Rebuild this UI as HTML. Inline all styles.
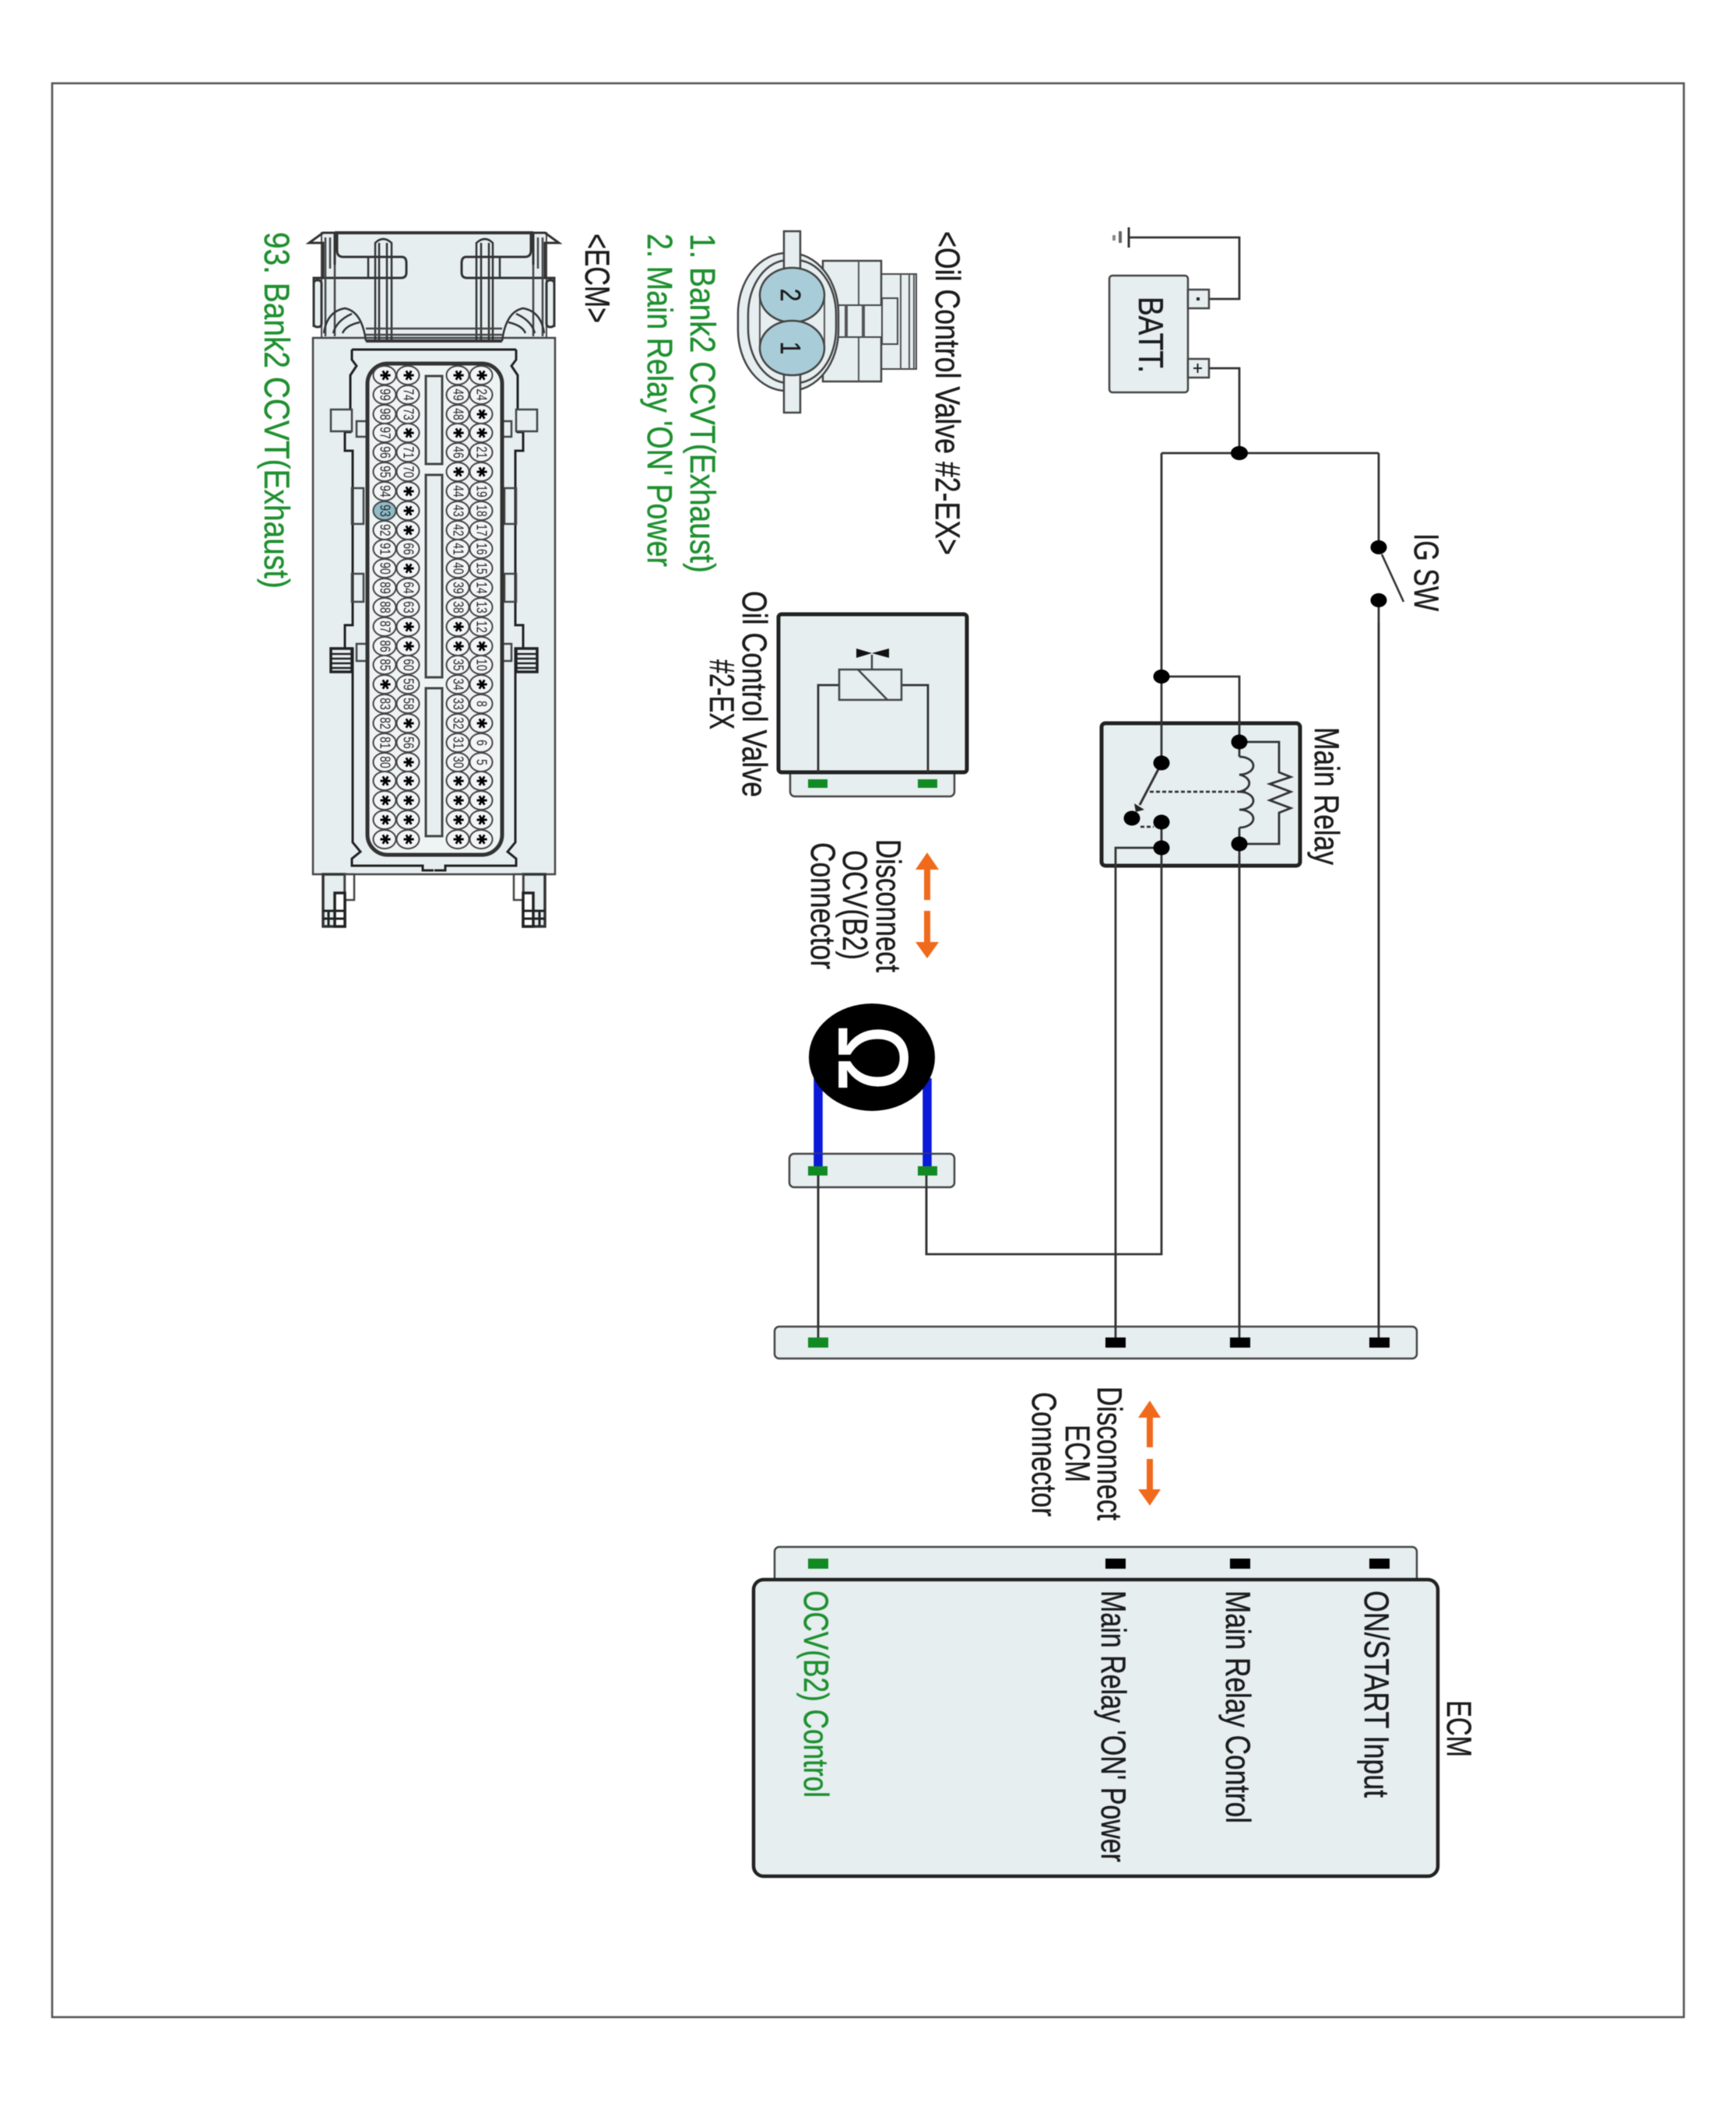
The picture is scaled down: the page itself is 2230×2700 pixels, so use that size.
<!DOCTYPE html>
<html><head><meta charset="utf-8"><style>
html,body{margin:0;padding:0;background:#fff}
svg{display:block;filter:blur(.6px)}
text{font-family:"Liberation Sans",sans-serif;fill:#1c1c1c;stroke:#1c1c1c;stroke-width:.35px;font-size:35px}
.g{fill:#1f9030;stroke:#1f9030}
.n text{font-size:14px;text-anchor:middle;dominant-baseline:central;fill:#222;stroke:none}
.s text{font-family:"DejaVu Sans",sans-serif;font-size:18px;text-anchor:middle;dominant-baseline:central;fill:#000;stroke:none}
.w{fill:none;stroke:#333;stroke-width:2.8}
.c{fill:#e6eef0;stroke:#444;stroke-width:2.5}
.l{fill:none;stroke:#555;stroke-width:2}
.h{fill:#e6eef0;stroke:#444;stroke-width:2}
</style></head><body>
<svg xmlns="http://www.w3.org/2000/svg" width="2230" height="2700" viewBox="0 0 2230 2700">
<rect x="67" y="107" width="2096" height="2484" fill="#fff" stroke="#555" stroke-width="2.6"/>

<!-- Battery -->
<path class="w" d="M1450 305H1592V384H1553M1553 473H1592V582M1492 582H1771"/>
<path d="M1450 292V318" stroke="#333" stroke-width="3" fill="none"/>
<path d="M1439 297V312" stroke="#666" stroke-width="4" fill="none"/>
<path d="M1431 302V309" stroke="#888" stroke-width="4" fill="none"/>
<rect class="c" x="1425" y="354" width="101" height="150" rx="4"/>
<rect class="c" x="1526" y="372" width="27" height="24"/>
<rect class="c" x="1526" y="461" width="27" height="24"/>
<text transform="translate(1463,381) rotate(90) scale(1,1.28)" textLength="98" lengthAdjust="spacingAndGlyphs">BATT.</text>
<rect x="1537" y="382" width="4" height="4" fill="#222"/>
<path d="M1533 473H1544M1538.5 467V479" stroke="#222" stroke-width="2" fill="none"/>

<!-- IG SW -->
<path class="w" d="M1771 582V703M1771 771V1722"/>
<path d="M1775 712L1803 773" stroke="#333" stroke-width="2.6" fill="none"/>
<ellipse cx="1771" cy="703" rx="10.5" ry="9"/>
<ellipse cx="1771" cy="771" rx="10.5" ry="9"/>
<text transform="translate(1817,685) rotate(90) scale(1,1.28)" textLength="100" lengthAdjust="spacingAndGlyphs">IG SW</text>

<!-- Main relay -->
<path class="w" d="M1492 582V929M1492 869H1592V929"/>
<rect x="1415" y="929" width="255" height="183" rx="5" fill="#e6eef0" stroke="#222" stroke-width="5"/>
<path class="w" d="M1492 925V980M1592 925V972M1592 1063V1722M1492 1056V1611H1190V1510M1492 1089H1433V1722"/>
<path class="w" d="M1592 953H1643V992L1658 998L1631 1007L1658 1017L1631 1028L1658 1038L1643 1044V1084H1592"/>
<path class="w" d="M1592 972a18 11.5 0 0 1 0 23a18 11.5 0 0 1 0 22a18 11.5 0 0 1 0 23a18 11.5 0 0 1 0 23"/>
<path d="M1488 988L1464 1034" stroke="#333" stroke-width="3" fill="none"/>
<polygon points="1457,1032 1470,1040 1459,1043" fill="#222"/>
<path d="M1477 1017H1600M1465 1062H1482" stroke="#333" stroke-width="2.8" stroke-dasharray="5 3" fill="none"/>
<ellipse cx="1492" cy="869" rx="10.5" ry="9"/>
<ellipse cx="1592" cy="582" rx="11" ry="9"/>
<ellipse cx="1592" cy="953" rx="10.5" ry="9.5"/>
<ellipse cx="1592" cy="1084" rx="10.5" ry="9.5"/>
<ellipse cx="1492" cy="980" rx="10.5" ry="9.5"/>
<ellipse cx="1492" cy="1056" rx="10.5" ry="9.5"/>
<ellipse cx="1492" cy="1089" rx="10.5" ry="9.5"/>
<ellipse cx="1454" cy="1051" rx="10.5" ry="9.5"/>
<text transform="translate(1689,934) rotate(90) scale(1,1.28)" textLength="177" lengthAdjust="spacingAndGlyphs">Main Relay</text>

<!-- OCV connector view -->
<text transform="translate(1202,297) rotate(90) scale(1,1.28)" textLength="416" lengthAdjust="spacingAndGlyphs">&lt;Oil Control Valve #2-EX&gt;</text>
<text class="g" transform="translate(887,300) rotate(90) scale(1,1.2)" textLength="436" lengthAdjust="spacingAndGlyphs" style="font-size:38px">1. Bank2 CCVT(Exhaust)</text>
<text class="g" transform="translate(832,300) rotate(90) scale(1,1.2)" textLength="428" lengthAdjust="spacingAndGlyphs" style="font-size:38px">2. Main Relay 'ON' Power</text>
<rect class="h" x="1132" y="352" width="45" height="122"/>
<path class="l" d="M1157 352V474M1168 352V474M1174 352V474"/>
<rect class="h" x="1133" y="383" width="20" height="59"/>
<rect class="c" x="1057" y="335" width="75" height="155"/>
<path class="l" d="M1103 335V392M1103 433V490"/>
<rect class="h" x="1077" y="392" width="56" height="41"/>
<path d="M1087 392V433M1109 392V433" stroke="#555" stroke-width="4" fill="none"/>
<rect x="948" y="325" width="129" height="177" rx="62" ry="78" fill="#e6eef0" stroke="#444" stroke-width="2.5"/>
<rect x="961" y="334" width="113" height="158" rx="52" ry="70" fill="#e6eef0" stroke="#444" stroke-width="2.5"/>
<rect class="c" x="1007" y="297" width="21" height="233"/>
<rect x="976" y="379" width="83" height="68" fill="#e6eef0"/>
<path class="l" d="M976 379V447M1059 379V447"/>
<ellipse cx="1017.5" cy="379" rx="41.5" ry="35" fill="#a9cdd8" stroke="#444" stroke-width="2.5"/>
<ellipse cx="1017.5" cy="447" rx="41.5" ry="35" fill="#a9cdd8" stroke="#444" stroke-width="2.5"/>
<text transform="translate(1003,379) rotate(90) scale(1,1.2)" text-anchor="middle" style="font-size:30px">2</text>
<text transform="translate(1003,447) rotate(90) scale(1,1.2)" text-anchor="middle" style="font-size:30px">1</text>

<!-- OCV box -->
<rect class="c" x="1015" y="985" width="211" height="38" rx="6"/>
<rect x="1000" y="789" width="242" height="203" rx="4" fill="#e6eef0" stroke="#222" stroke-width="5"/>
<rect x="1038" y="1001" width="25" height="11" fill="#128a24"/>
<rect x="1179" y="1001" width="25" height="11" fill="#128a24"/>
<path class="w" d="M1051 992V880H1078M1192 992V880H1158"/>
<rect class="c" x="1078" y="860" width="80" height="39"/>
<path d="M1102 860L1140 899M1120 860V841" stroke="#444" stroke-width="2.5" fill="none"/>
<polygon points="1100,833 1120,839 1142,833 1142,845 1120,839 1100,845" fill="#111"/>
<text transform="translate(954,759) rotate(90) scale(1,1.28)" textLength="265" lengthAdjust="spacingAndGlyphs">Oil Control Valve</text>
<text transform="translate(912,847) rotate(90) scale(1,1.28)" textLength="90" lengthAdjust="spacingAndGlyphs">#2-EX</text>

<!-- Disconnect OCV -->
<polygon points="1191,1095 1206,1117 1195,1117 1195,1156 1187,1156 1187,1117 1176,1117" fill="#f06a1c"/>
<polygon points="1191,1231 1206,1210 1195,1210 1195,1170 1187,1170 1187,1210 1176,1210" fill="#f06a1c"/>
<text transform="translate(1126,1078) rotate(90) scale(1,1.28)" textLength="171" lengthAdjust="spacingAndGlyphs">Disconnect</text>
<text transform="translate(1083,1092) rotate(90) scale(1,1.28)" textLength="141" lengthAdjust="spacingAndGlyphs">OCV(B2)</text>
<text transform="translate(1042,1082) rotate(90) scale(1,1.28)" textLength="163" lengthAdjust="spacingAndGlyphs">Connector</text>

<!-- Ohm meter -->
<path d="M1051 1385V1498M1191 1385V1498" stroke="#0a1ad8" stroke-width="11.5" fill="none"/>
<ellipse cx="1120" cy="1358" rx="81" ry="69" fill="#000"/>
<text transform="translate(1078,1359) rotate(90) scale(1,1.115)" text-anchor="middle" style="font-size:113px;fill:#fff;stroke:#fff;stroke-width:1.5px">Ω</text>
<rect class="c" x="1014" y="1482" width="212" height="43" rx="6"/>
<path d="M1051 1482V1498M1191 1482V1498" stroke="#0a1ad8" stroke-width="11.5" fill="none"/>
<rect x="1038" y="1498" width="25" height="12" fill="#128a24"/>
<rect x="1179" y="1498" width="25" height="12" fill="#128a24"/>
<path class="w" d="M1051 1510V1722"/>
<path class="w" d="M1190 1510V1611"/>

<!-- ECM connectors -->
<rect class="c" x="995" y="1704" width="825" height="41" rx="6"/>
<path class="w" d="M1051 1510V1722M1433 1611V1722M1592 1100V1722M1771 800V1722"/>
<rect x="1038" y="1718" width="26" height="13" fill="#128a24"/>
<rect x="1420" y="1718" width="26" height="13" fill="#000"/>
<rect x="1580" y="1718" width="26" height="13" fill="#000"/>
<rect x="1759" y="1718" width="26" height="13" fill="#000"/>

<polygon points="1477,1799 1491,1821 1481,1821 1481,1859 1473,1859 1473,1821 1462,1821" fill="#f06a1c"/>
<polygon points="1477,1934 1491,1913 1481,1913 1481,1874 1473,1874 1473,1913 1462,1913" fill="#f06a1c"/>
<text transform="translate(1410,1781) rotate(90) scale(1,1.28)" textLength="172" lengthAdjust="spacingAndGlyphs">Disconnect</text>
<text transform="translate(1369,1830) rotate(90) scale(1,1.28)" textLength="74" lengthAdjust="spacingAndGlyphs">ECM</text>
<text transform="translate(1326,1788) rotate(90) scale(1,1.28)" textLength="160" lengthAdjust="spacingAndGlyphs">Connector</text>

<rect class="c" x="995" y="1987" width="825" height="60" rx="6"/>
<rect x="1038" y="2002" width="26" height="13" fill="#128a24"/>
<rect x="1420" y="2002" width="26" height="13" fill="#000"/>
<rect x="1580" y="2002" width="26" height="13" fill="#000"/>
<rect x="1759" y="2002" width="26" height="13" fill="#000"/>
<rect x="968" y="2029" width="879" height="381" rx="13" fill="#e6eef0" stroke="#222" stroke-width="4.5"/>
<text transform="translate(1753,2043) rotate(90) scale(1,1.28)" textLength="266" lengthAdjust="spacingAndGlyphs">ON/START Input</text>
<text transform="translate(1575,2043) rotate(90) scale(1,1.28)" textLength="299" lengthAdjust="spacingAndGlyphs">Main Relay Control</text>
<text transform="translate(1415,2043) rotate(90) scale(1,1.28)" textLength="349" lengthAdjust="spacingAndGlyphs">Main Relay 'ON' Power</text>
<text class="g" transform="translate(1033,2043) rotate(90) scale(1,1.28)" textLength="266" lengthAdjust="spacingAndGlyphs">OCV(B2) Control</text>
<text transform="translate(1859,2184) rotate(90) scale(1,1.28)" textLength="73" lengthAdjust="spacingAndGlyphs">ECM</text>

<!-- ECM connector view -->
<text transform="translate(752,300) rotate(90) scale(1,1.28)" textLength="115" lengthAdjust="spacingAndGlyphs">&lt;ECM&gt;</text>
<text class="g" transform="translate(340,298) rotate(90) scale(1,1.2)" textLength="458" lengthAdjust="spacingAndGlyphs" style="font-size:38px">93. Bank2 CCVT(Exhaust)</text>

<defs>
<g id="half">
<path d="M415 357V312H397L415 299H430V340" fill="none" stroke="#333" stroke-width="3"/>
<path d="M433 299V322Q433 330 441 330H516Q522 330 522 338V350Q522 357 515 357H403V420" fill="none" stroke="#333" stroke-width="3"/>
<path d="M473 330V357" fill="none" stroke="#333" stroke-width="2.5"/>
<path d="M418 305V432M430 340V432M424 305V345" fill="none" stroke="#444" stroke-width="2.5"/>
<path d="M482 312Q492 302 503 312V438H482ZM487 312V438M497 312V438" fill="none" stroke="#333" stroke-width="2.5"/>
<rect x="403" y="360" width="10" height="60" rx="4" fill="#e6eef0" stroke="#333" stroke-width="3"/>
<path d="M416 428Q420 400 443 396Q465 400 470 438M428 428Q432 412 452 403M440 428Q444 418 462 414" fill="none" stroke="#333" stroke-width="2.5"/>
<path d="M452 449V462L458 470L450 482V555H443V579H453V803H443V833H453V1082L463 1094L452 1103V1112H543V1118H557" fill="none" stroke="#222" stroke-width="3"/>
<rect x="425" y="526" width="27" height="28" fill="#e6eef0" stroke="#444" stroke-width="2.5"/>
<rect x="425" y="833" width="27" height="30" fill="#e6eef0" stroke="#222" stroke-width="3.5"/>
<path d="M426 840H452M426 846H452M426 852H452M426 858H452" stroke="#222" stroke-width="2.5"/>
<rect x="458" y="541" width="14" height="20" fill="none" stroke="#444" stroke-width="2.5"/>
<rect x="458" y="827" width="14" height="22" fill="none" stroke="#444" stroke-width="2.5"/>
<rect x="452" y="627" width="15" height="46" fill="none" stroke="#444" stroke-width="2.5"/>
<rect x="452" y="737" width="15" height="36" fill="none" stroke="#444" stroke-width="2.5"/>
<rect x="415" y="1123" width="28" height="67" fill="#e6eef0" stroke="#333" stroke-width="3.5"/>
<rect x="443" y="1123" width="12" height="33" fill="#fff" stroke="#444" stroke-width="2.5"/>
<rect x="430" y="1147" width="13" height="43" fill="#fff" stroke="#222" stroke-width="3.5"/>
<path d="M415 1170H443M415 1180H443M422 1170V1190" stroke="#222" stroke-width="3" fill="none"/>
</g>
</defs>
<rect class="h" x="413" y="299" width="289" height="136"/>
<rect class="c" x="402" y="434" width="311" height="689"/>
<use href="#half"/>
<use href="#half" transform="translate(1115,0) scale(-1,1)"/>
<path d="M470 422H645M470 430H645" stroke="#444" stroke-width="2.5" fill="none"/>
<path d="M470 438H645" stroke="#333" stroke-width="4" fill="none"/>
<path d="M430 299H685" stroke="#333" stroke-width="4" fill="none"/>
<path d="M452 449H663" stroke="#222" stroke-width="3" fill="none"/>
<rect x="472" y="467" width="173" height="631" rx="26" fill="#eef3f4" stroke="#333" stroke-width="5"/>
<rect x="547" y="483" width="21" height="113" fill="#e6eef0" stroke="#444" stroke-width="3"/>
<rect x="547" y="610" width="21" height="260" fill="#e6eef0" stroke="#444" stroke-width="3"/>
<rect x="547" y="884" width="21" height="190" fill="#e6eef0" stroke="#444" stroke-width="3"/>

<g fill="#f3f6f7" stroke="#444" stroke-width="2">
<ellipse cx="494" cy="482" rx="14.5" ry="12"/><ellipse cx="494" cy="507" rx="14.5" ry="12"/><ellipse cx="494" cy="532" rx="14.5" ry="12"/><ellipse cx="494" cy="556" rx="14.5" ry="12"/><ellipse cx="494" cy="581" rx="14.5" ry="12"/><ellipse cx="494" cy="606" rx="14.5" ry="12"/><ellipse cx="494" cy="631" rx="14.5" ry="12"/><ellipse cx="494" cy="656" rx="14.5" ry="12" fill="#8fbcc8"/><ellipse cx="494" cy="681" rx="14.5" ry="12"/><ellipse cx="494" cy="705" rx="14.5" ry="12"/><ellipse cx="494" cy="730" rx="14.5" ry="12"/><ellipse cx="494" cy="755" rx="14.5" ry="12"/><ellipse cx="494" cy="780" rx="14.5" ry="12"/><ellipse cx="494" cy="805" rx="14.5" ry="12"/><ellipse cx="494" cy="830" rx="14.5" ry="12"/><ellipse cx="494" cy="854" rx="14.5" ry="12"/><ellipse cx="494" cy="879" rx="14.5" ry="12"/><ellipse cx="494" cy="904" rx="14.5" ry="12"/><ellipse cx="494" cy="929" rx="14.5" ry="12"/><ellipse cx="494" cy="954" rx="14.5" ry="12"/><ellipse cx="494" cy="979" rx="14.5" ry="12"/><ellipse cx="494" cy="1003" rx="14.5" ry="12"/><ellipse cx="494" cy="1028" rx="14.5" ry="12"/><ellipse cx="494" cy="1053" rx="14.5" ry="12"/><ellipse cx="494" cy="1078" rx="14.5" ry="12"/>
<ellipse cx="524" cy="482" rx="14.5" ry="12"/><ellipse cx="524" cy="507" rx="14.5" ry="12"/><ellipse cx="524" cy="532" rx="14.5" ry="12"/><ellipse cx="524" cy="556" rx="14.5" ry="12"/><ellipse cx="524" cy="581" rx="14.5" ry="12"/><ellipse cx="524" cy="606" rx="14.5" ry="12"/><ellipse cx="524" cy="631" rx="14.5" ry="12"/><ellipse cx="524" cy="656" rx="14.5" ry="12"/><ellipse cx="524" cy="681" rx="14.5" ry="12"/><ellipse cx="524" cy="705" rx="14.5" ry="12"/><ellipse cx="524" cy="730" rx="14.5" ry="12"/><ellipse cx="524" cy="755" rx="14.5" ry="12"/><ellipse cx="524" cy="780" rx="14.5" ry="12"/><ellipse cx="524" cy="805" rx="14.5" ry="12"/><ellipse cx="524" cy="830" rx="14.5" ry="12"/><ellipse cx="524" cy="854" rx="14.5" ry="12"/><ellipse cx="524" cy="879" rx="14.5" ry="12"/><ellipse cx="524" cy="904" rx="14.5" ry="12"/><ellipse cx="524" cy="929" rx="14.5" ry="12"/><ellipse cx="524" cy="954" rx="14.5" ry="12"/><ellipse cx="524" cy="979" rx="14.5" ry="12"/><ellipse cx="524" cy="1003" rx="14.5" ry="12"/><ellipse cx="524" cy="1028" rx="14.5" ry="12"/><ellipse cx="524" cy="1053" rx="14.5" ry="12"/><ellipse cx="524" cy="1078" rx="14.5" ry="12"/>
<ellipse cx="588" cy="482" rx="14.5" ry="12"/><ellipse cx="588" cy="507" rx="14.5" ry="12"/><ellipse cx="588" cy="532" rx="14.5" ry="12"/><ellipse cx="588" cy="556" rx="14.5" ry="12"/><ellipse cx="588" cy="581" rx="14.5" ry="12"/><ellipse cx="588" cy="606" rx="14.5" ry="12"/><ellipse cx="588" cy="631" rx="14.5" ry="12"/><ellipse cx="588" cy="656" rx="14.5" ry="12"/><ellipse cx="588" cy="681" rx="14.5" ry="12"/><ellipse cx="588" cy="705" rx="14.5" ry="12"/><ellipse cx="588" cy="730" rx="14.5" ry="12"/><ellipse cx="588" cy="755" rx="14.5" ry="12"/><ellipse cx="588" cy="780" rx="14.5" ry="12"/><ellipse cx="588" cy="805" rx="14.5" ry="12"/><ellipse cx="588" cy="830" rx="14.5" ry="12"/><ellipse cx="588" cy="854" rx="14.5" ry="12"/><ellipse cx="588" cy="879" rx="14.5" ry="12"/><ellipse cx="588" cy="904" rx="14.5" ry="12"/><ellipse cx="588" cy="929" rx="14.5" ry="12"/><ellipse cx="588" cy="954" rx="14.5" ry="12"/><ellipse cx="588" cy="979" rx="14.5" ry="12"/><ellipse cx="588" cy="1003" rx="14.5" ry="12"/><ellipse cx="588" cy="1028" rx="14.5" ry="12"/><ellipse cx="588" cy="1053" rx="14.5" ry="12"/><ellipse cx="588" cy="1078" rx="14.5" ry="12"/>
<ellipse cx="618" cy="482" rx="14.5" ry="12"/><ellipse cx="618" cy="507" rx="14.5" ry="12"/><ellipse cx="618" cy="532" rx="14.5" ry="12"/><ellipse cx="618" cy="556" rx="14.5" ry="12"/><ellipse cx="618" cy="581" rx="14.5" ry="12"/><ellipse cx="618" cy="606" rx="14.5" ry="12"/><ellipse cx="618" cy="631" rx="14.5" ry="12"/><ellipse cx="618" cy="656" rx="14.5" ry="12"/><ellipse cx="618" cy="681" rx="14.5" ry="12"/><ellipse cx="618" cy="705" rx="14.5" ry="12"/><ellipse cx="618" cy="730" rx="14.5" ry="12"/><ellipse cx="618" cy="755" rx="14.5" ry="12"/><ellipse cx="618" cy="780" rx="14.5" ry="12"/><ellipse cx="618" cy="805" rx="14.5" ry="12"/><ellipse cx="618" cy="830" rx="14.5" ry="12"/><ellipse cx="618" cy="854" rx="14.5" ry="12"/><ellipse cx="618" cy="879" rx="14.5" ry="12"/><ellipse cx="618" cy="904" rx="14.5" ry="12"/><ellipse cx="618" cy="929" rx="14.5" ry="12"/><ellipse cx="618" cy="954" rx="14.5" ry="12"/><ellipse cx="618" cy="979" rx="14.5" ry="12"/><ellipse cx="618" cy="1003" rx="14.5" ry="12"/><ellipse cx="618" cy="1028" rx="14.5" ry="12"/><ellipse cx="618" cy="1053" rx="14.5" ry="12"/><ellipse cx="618" cy="1078" rx="14.5" ry="12"/>
</g>

<!-- pin numbers: x = row position, y = -column/1.3 -->
<g class="n" transform="rotate(90) scale(1,1.3)">
<text x="507" y="-475.4">24</text><text x="581" y="-475.4">21</text><text x="631" y="-475.4">19</text><text x="656" y="-475.4">18</text><text x="681" y="-475.4">17</text><text x="705" y="-475.4">16</text><text x="730" y="-475.4">15</text><text x="755" y="-475.4">14</text><text x="780" y="-475.4">13</text><text x="805" y="-475.4">12</text><text x="854" y="-475.4">10</text><text x="904" y="-475.4">8</text><text x="954" y="-475.4">6</text><text x="979" y="-475.4">5</text>
<text x="507" y="-452.3">49</text><text x="532" y="-452.3">48</text><text x="581" y="-452.3">46</text><text x="631" y="-452.3">44</text><text x="656" y="-452.3">43</text><text x="681" y="-452.3">42</text><text x="705" y="-452.3">41</text><text x="730" y="-452.3">40</text><text x="755" y="-452.3">39</text><text x="780" y="-452.3">38</text><text x="854" y="-452.3">35</text><text x="879" y="-452.3">34</text><text x="904" y="-452.3">33</text><text x="929" y="-452.3">32</text><text x="954" y="-452.3">31</text><text x="979" y="-452.3">30</text>
<text x="507" y="-403.1">74</text><text x="532" y="-403.1">73</text><text x="581" y="-403.1">71</text><text x="606" y="-403.1">70</text><text x="705" y="-403.1">66</text><text x="755" y="-403.1">64</text><text x="780" y="-403.1">63</text><text x="854" y="-403.1">60</text><text x="879" y="-403.1">59</text><text x="904" y="-403.1">58</text><text x="954" y="-403.1">56</text>
<text x="507" y="-380">99</text><text x="532" y="-380">98</text><text x="556" y="-380">97</text><text x="581" y="-380">96</text><text x="606" y="-380">95</text><text x="631" y="-380">94</text><text x="656" y="-380">93</text><text x="681" y="-380">92</text><text x="705" y="-380">91</text><text x="730" y="-380">90</text><text x="755" y="-380">89</text><text x="780" y="-380">88</text><text x="805" y="-380">87</text><text x="830" y="-380">86</text><text x="854" y="-380">85</text><text x="904" y="-380">83</text><text x="929" y="-380">82</text><text x="954" y="-380">81</text><text x="979" y="-380">80</text>
</g>
<g class="s" transform="rotate(90)">
<text x="482" y="-618">✱</text><text x="532" y="-618">✱</text><text x="556" y="-618">✱</text><text x="606" y="-618">✱</text><text x="830" y="-618">✱</text><text x="879" y="-618">✱</text><text x="929" y="-618">✱</text><text x="1003" y="-618">✱</text><text x="1028" y="-618">✱</text><text x="1053" y="-618">✱</text><text x="1078" y="-618">✱</text>
<text x="482" y="-588">✱</text><text x="556" y="-588">✱</text><text x="606" y="-588">✱</text><text x="805" y="-588">✱</text><text x="830" y="-588">✱</text><text x="1003" y="-588">✱</text><text x="1028" y="-588">✱</text><text x="1053" y="-588">✱</text><text x="1078" y="-588">✱</text>
<text x="482" y="-524">✱</text><text x="556" y="-524">✱</text><text x="631" y="-524">✱</text><text x="656" y="-524">✱</text><text x="681" y="-524">✱</text><text x="730" y="-524">✱</text><text x="805" y="-524">✱</text><text x="830" y="-524">✱</text><text x="929" y="-524">✱</text><text x="979" y="-524">✱</text><text x="1003" y="-524">✱</text><text x="1028" y="-524">✱</text><text x="1053" y="-524">✱</text><text x="1078" y="-524">✱</text>
<text x="482" y="-494">✱</text><text x="879" y="-494">✱</text><text x="1003" y="-494">✱</text><text x="1028" y="-494">✱</text><text x="1053" y="-494">✱</text><text x="1078" y="-494">✱</text>
</g>
</svg>
</body></html>
